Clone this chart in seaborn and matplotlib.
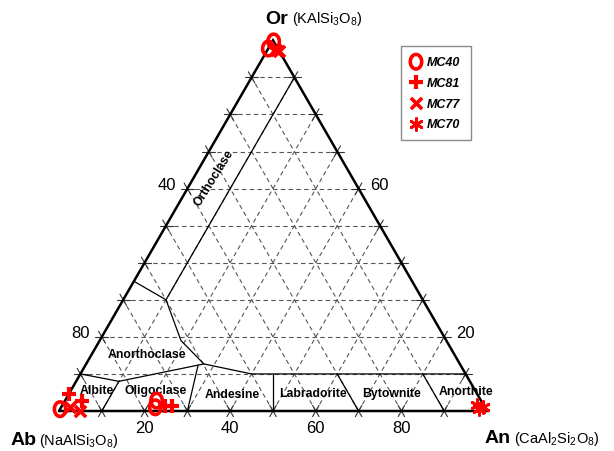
import numpy as np
import pandas as pd
import matplotlib
matplotlib.use("Agg")
import matplotlib.pyplot as plt
from matplotlib.path import Path
import seaborn as sns

# ---------------- data (ternary fractions: An, Or; Ab = 1 - An - Or) ----------------
samples = ["MC40", "MC81", "MC77", "MC70"]
mc40_an = [0.003, 0.000, 0.000, 0.214, 0.220]
mc40_or = [0.997, 0.978, 0.005, 0.028, 0.010]
mc81_an = [0.000, 0.040, 0.256, 0.240]
mc81_or = [0.045, 0.028, 0.014, 0.014]
mc77_an = [0.020, 0.030, 0.020, 0.050]
mc77_or = [0.975, 0.970, 0.011, 0.000]
mc70_an = [0.968, 0.985, 0.978]
mc70_or = [0.015, 0.012, 0.005]

grid_steps = [0.1, 0.2, 0.3, 0.4, 0.5, 0.6, 0.7, 0.8, 0.9]
bottom_labels = ["20", "40", "60", "80"]      # An %
left_labels = ["40", "80"]                    # Ab %
right_labels = ["60", "20"]                   # Or %

# field boundaries as (An, Or) polylines
plag_top = [(0.0, 0.10), (0.10, 0.08), (0.275, 0.127), (0.40, 0.10), (0.90, 0.10)]
albite_olig = [(0.10, 0.08), (0.10, 0.0)]
olig_andes = [(0.263, 0.124), (0.30, 0.0)]
andes_lab = [(0.45, 0.10), (0.50, 0.0)]
lab_byt = [(0.60, 0.10), (0.70, 0.0)]
byt_anor = [(0.80, 0.10), (0.90, 0.0)]
anorthoclase = [(0.0, 0.35), (0.10, 0.30), (0.19, 0.19), (0.275, 0.127)]
orthoclase = [(0.10, 0.30), (0.10, 0.90)]
boundaries = [plag_top, albite_olig, olig_andes, andes_lab, lab_byt, byt_anor,
              anorthoclase, orthoclase]

field_names = ["Orthoclase", "Anorthoclase", "Albite", "Oligoclase", "Andesine",
               "Labradorite", "Bytownite", "Anorthite"]

# ---------------- style ----------------
sns.set_style("white")
plt.rcParams["font.family"] = ["Liberation Sans", "DejaVu Sans"]
plt.rcParams["text.color"] = "black"
plt.rcParams["mathtext.fontset"] = "custom"
plt.rcParams["mathtext.rm"] = "Liberation Sans"
plt.rcParams["mathtext.it"] = "Liberation Sans:italic"
plt.rcParams["mathtext.bf"] = "Liberation Sans:bold"

W, H = 614, 452
S = 428.0
X0, Y0 = 59.0, 412.0
R3 = np.sqrt(3) / 2


def tern(an, orr):
    an = np.asarray(an, dtype=float)
    orr = np.asarray(orr, dtype=float)
    return an + orr / 2.0, orr * R3


def px(xp, yp):
    return (xp - X0) / S, (Y0 - yp) / S


fig = plt.figure(figsize=(W / 100, H / 100), dpi=100)
ax = fig.add_axes([0, 0, 1, 1])
ax.set_xlim(-X0 / S, (W - X0) / S)
ax.set_ylim((Y0 - H) / S, Y0 / S)
ax.axis("off")

# grid
gkw = dict(color="#555555", lw=0.8, ls=(0, (4, 3)), zorder=1)
for v in grid_steps:
    for (a1, o1), (a2, o2) in [((0, v), (1 - v, v)), ((v, 0), (v, 1 - v)),
                               ((1 - v, 0), (0, 1 - v))]:
        xs, ys = tern([a1, a2], [o1, o2])
        ax.plot(xs, ys, **gkw)

# ticks
tl = 6.5 / S
d_an = np.array([0.5, R3])     # constant-An direction
d_ab = np.array([-0.5, R3])    # constant-Ab direction
d_or = np.array([1.0, 0.0])    # constant-Or direction
tkw = dict(color="#333333", lw=0.8, zorder=2)
for v in grid_steps:
    for (a, o), dirs in [((v, 0.0), (d_an, d_ab)), ((0.0, v), (d_or, d_ab)),
                         ((1 - v, v), (d_or, d_an))]:
        p = np.array(tern(a, o))
        for d in dirs:
            ax.plot([p[0] - tl * d[0], p[0] + tl * d[0]],
                    [p[1] - tl * d[1], p[1] + tl * d[1]], **tkw)

# field boundaries
for line in boundaries:
    a, o = zip(*line)
    xs, ys = tern(a, o)
    ax.plot(xs, ys, color="black", lw=0.9, zorder=3)

# triangle
tx, ty = tern([0, 1, 0, 0], [0, 0, 1, 0])
ax.plot(tx, ty, color="black", lw=1.8, zorder=4, solid_joinstyle="miter")

# tick labels
for lab, v in zip(bottom_labels, [0.2, 0.4, 0.6, 0.8]):
    x, y = tern(v, 0)
    ax.text(x, y - 17 / S, lab, ha="center", va="center", fontsize=12)
for lab, v in zip(left_labels, [0.6, 0.2]):
    x, y = tern(0, v)
    ax.text(x - 21 / S, y + 4 / S, lab, ha="center", va="center", fontsize=12)
for lab, v in zip(right_labels, [0.6, 0.2]):
    x, y = tern(1 - v, v)
    ax.text(x + 21 / S, y + 4 / S, lab, ha="center", va="center", fontsize=12)

# vertex labels
ax.text(*px(288, 23.5), "Or", ha="right", va="baseline", fontsize=14, fontweight="bold")
ax.text(*px(292, 23.5), r"(KAlSi$_3$O$_8$)", ha="left", va="baseline", fontsize=10.5)
ax.text(*px(37, 445), "Ab", ha="right", va="baseline", fontsize=14, fontweight="bold")
ax.text(*px(39, 445), r"(NaAlSi$_3$O$_8$)", ha="left", va="baseline", fontsize=10.5)
ax.text(*px(511, 443.5), "An", ha="right", va="baseline", fontsize=14, fontweight="bold")
ax.text(*px(514, 443.5), r"(CaAl$_2$Si$_2$O$_8$)", ha="left", va="baseline", fontsize=10.5)

# field labels
field_pos = [(214, 178), (146.5, 355), (96.5, 391), (156, 391), (232.5, 395),
             (313, 394), (391.5, 394), (465.5, 392)]
for name, (xp, yp) in zip(field_names, field_pos):
    rot = 58 if name == "Orthoclase" else 0
    ax.text(*px(xp, yp), name, ha="center", va="center", fontsize=8.8,
            fontweight="bold", rotation=rot, zorder=5)

# samples
frames = []
for name, an, orr in [("MC40", mc40_an, mc40_or), ("MC81", mc81_an, mc81_or),
                      ("MC77", mc77_an, mc77_or), ("MC70", mc70_an, mc70_or)]:
    x, y = tern(an, orr)
    frames.append(pd.DataFrame({"x": x, "y": y, "sample": name}))
df = pd.concat(frames, ignore_index=True)

th = np.linspace(0, 2 * np.pi, 41)
oval = Path(np.column_stack([0.78 * np.cos(th), np.sin(th)]), closed=True)

mstyle = {
    "MC40": dict(marker=oval, s=110, facecolors="none", edgecolor="red", linewidth=2.6),
    "MC81": dict(marker="+", s=100, linewidth=3.0),
    "MC77": dict(marker="x", s=65, linewidth=2.6),
    "MC70": dict(marker=(6, 2, 0), s=75, linewidth=2.0),
}
for name in samples:
    sns.scatterplot(data=df[df["sample"] == name], x="x", y="y", color="red",
                    ax=ax, label=name, zorder=6, **mstyle[name])

ax.set_xlabel("")
ax.set_ylabel("")
leg = ax.legend(loc="upper left", bbox_to_anchor=(401 / W, 1 - 47 / H),
                borderaxespad=0, frameon=True, fancybox=False, edgecolor="#8a8a8a",
                prop={"weight": "bold", "style": "italic", "size": 9},
                borderpad=0.8, labelspacing=0.7, handlelength=0.8,
                handletextpad=0.5, framealpha=1)
leg.get_frame().set_linewidth(1.0)
ax.set_xlim(-X0 / S, (W - X0) / S)
ax.set_ylim((Y0 - H) / S, Y0 / S)
ax.axis("off")

fig.savefig("out.png", dpi=100)
